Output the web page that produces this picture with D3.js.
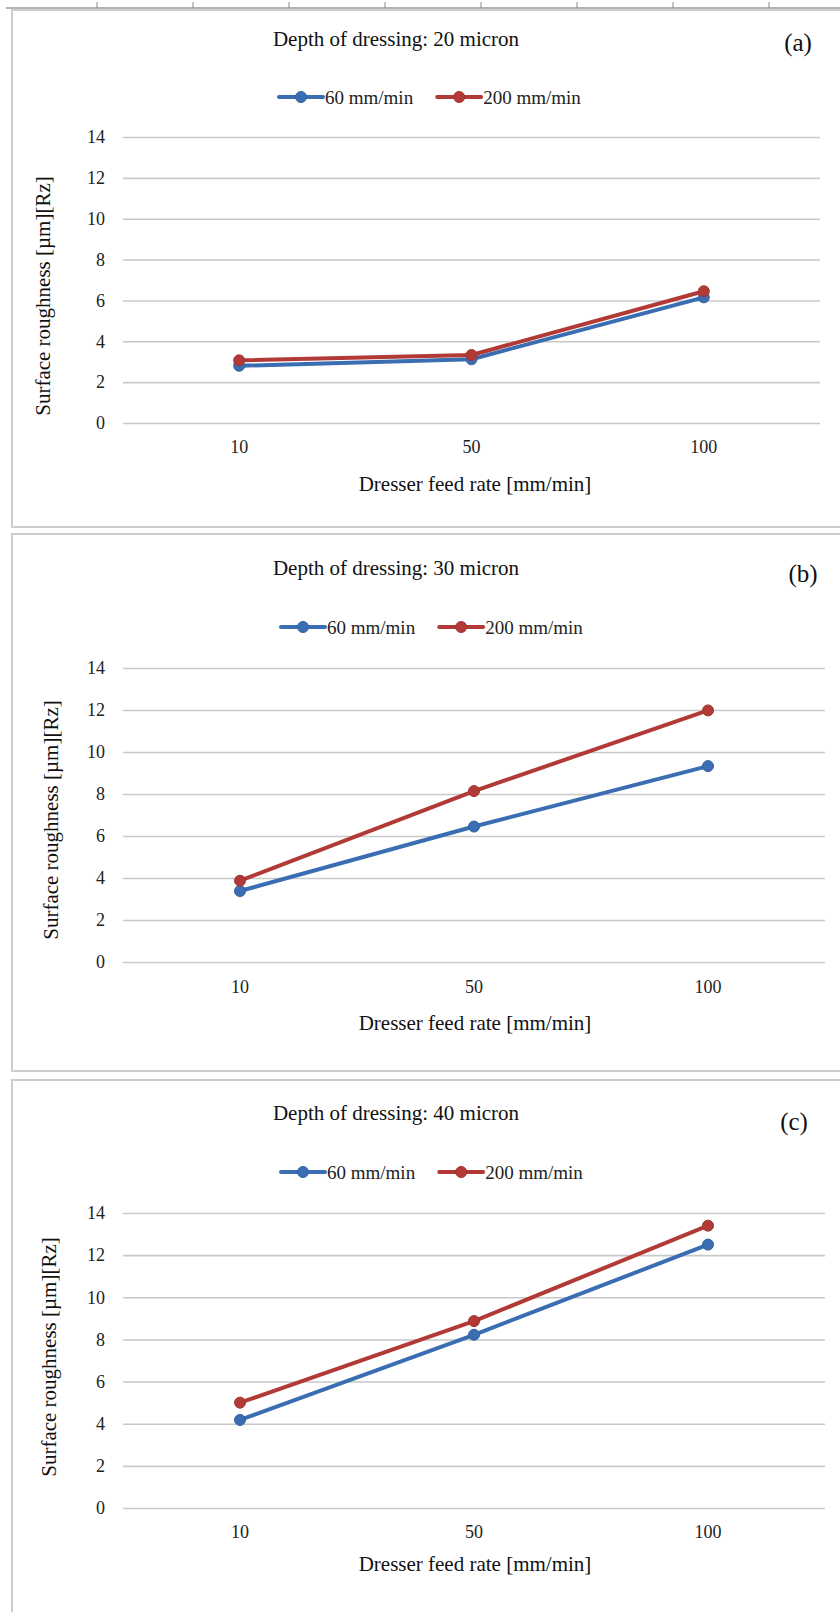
<!DOCTYPE html>
<html>
<head>
<meta charset="utf-8">
<script src="https://cdn.jsdelivr.net/npm/d3@7"></script>
<style>
  body { margin: 0; background: #fff; }
  svg text { font-family: 'Liberation Serif', 'Times New Roman', serif; }
  .grid line { stroke: #c9c9c9; stroke-width: 1.6; }
  .grid text { font-size: 18px; fill: #222; }
  .x-lab { font-size: 18px; fill: #222; text-anchor: middle; }
  .title, .axis-title { font-size: 21px; fill: #111; text-anchor: middle; }
  .letter { font-size: 25px; fill: #111; text-anchor: middle; }
  .legend text { font-size: 19px; fill: #222; }
  .frame { stroke: #cdcdcd; stroke-width: 2; fill: none; }
</style>
</head>
<body>
<div id="chart"></div>
<script>
// data
let feedRates = ['10', '50', '100']
let seriesNames = ['60 mm/min', '200 mm/min']
let depths = ['20', '30', '40']
let letters = ['(a)', '(b)', '(c)']

let depth20_60 = [2.8, 3.12, 6.15]
let depth20_200 = [3.07, 3.33, 6.45]
let depth30_60 = [3.38, 6.45, 9.33]
let depth30_200 = [3.87, 8.14, 11.98]
let depth40_60 = [4.18, 8.22, 12.5]
let depth40_200 = [5.0, 8.87, 13.4]

let yTicks = [0, 2, 4, 6, 8, 10, 12, 14]

let colors = ['#3a6db2', '#b23a36']

let width = 840, height = 1612

let svg = d3.select('#chart')
.append('svg')
.attr('width', width)
.attr('height', height)

// ruler strip along the top of the sheet
svg.append('line')
.attr('x1', 6).attr('x2', width)
.attr('y1', 8).attr('y2', 8)
.attr('stroke', '#9a9a9a')
.attr('stroke-width', 1.5)

svg.selectAll('.ruler-tick')
.data(d3.range(8))
.join('line')
.attr('class', 'ruler-tick')
.attr('x1', i => 97 + i * 96)
.attr('x2', i => 97 + i * 96)
.attr('y1', 2).attr('y2', 8)
.attr('stroke', '#8a8a8a')
.attr('stroke-width', 1)

// panel layout (top of frame, bottom of frame, plot box, text spots)
let panels = [
	{ top: 10, bottom: 527, plotTop: 137, plotBottom: 423, left: 123, right: 820,
		titleY: 46, legendY: 97, xLabY: 453, xTitleY: 491, yTitle: [43, 296], letter: [798, 51],
		series: [depth20_60, depth20_200] },
	{ top: 534, bottom: 1071, plotTop: 668, plotBottom: 962, left: 123, right: 825,
		titleY: 575, legendY: 627, xLabY: 993, xTitleY: 1030, yTitle: [51, 820], letter: [803, 582],
		series: [depth30_60, depth30_200] },
	{ top: 1080, bottom: null, plotTop: 1213, plotBottom: 1508, left: 123, right: 825,
		titleY: 1120, legendY: 1172, xLabY: 1538, xTitleY: 1571, yTitle: [49, 1357], letter: [794, 1130],
		series: [depth40_60, depth40_200] }
]

panels.forEach((p, i) => drawPanel(p, i))

function drawPanel(p, i) {
	let g = svg.append('g').attr('class', 'panel')

	// frame: left, top and bottom edges run off the right side of the page
	let frame = `M${width},${p.top}H12V${p.bottom === null ? height : p.bottom}`
	if (p.bottom !== null) frame += `H${width}`
	g.append('path').attr('class', 'frame').attr('d', frame)

	let x = d3.scalePoint()
	.domain(feedRates)
	.range([p.left, p.right])
	.padding(0.5)

	let y = d3.scaleLinear()
	.domain([0, 14])
	.range([p.plotBottom, p.plotTop])

	let grid = g.append('g')
	.attr('class', 'grid')
	.attr('transform', `translate(${p.left}, 0)`)
	.call(d3.axisLeft(y).tickValues(yTicks).tickSize(-(p.right - p.left)).tickPadding(18))

	grid.select('.domain').remove()
	grid.selectAll('text').attr('x', -18)

	g.selectAll('.x-lab')
	.data(feedRates)
	.join('text')
	.attr('class', 'x-lab')
	.attr('x', d => x(d))
	.attr('y', p.xLabY)
	.text(d => d)

	let line = d3.line()
	.x((d, j) => x(feedRates[j]))
	.y(d => y(d))

	p.series.forEach((vals, s) => {
		g.append('path')
		.attr('d', line(vals))
		.attr('fill', 'none')
		.attr('stroke', colors[s])
		.attr('stroke-width', 4)
		.attr('stroke-linejoin', 'round')

		g.selectAll(`.pt-${s}`)
		.data(vals)
		.join('circle')
		.attr('class', `pt-${s}`)
		.attr('cx', (d, j) => x(feedRates[j]))
		.attr('cy', d => y(d))
		.attr('r', 5.5)
		.attr('fill', colors[s])
		.attr('stroke', d3.color(colors[s]).darker(0.3))
		.attr('stroke-width', 1)
	})

	g.append('text')
	.attr('class', 'title')
	.attr('x', 396)
	.attr('y', p.titleY)
	.text(`Depth of dressing: ${depths[i]} micron`)

	g.append('text')
	.attr('class', 'letter')
	.attr('x', p.letter[0])
	.attr('y', p.letter[1])
	.text(letters[i])

	g.append('text')
	.attr('class', 'axis-title')
	.attr('x', 475)
	.attr('y', p.xTitleY)
	.text('Dresser feed rate [mm/min]')

	g.append('text')
	.attr('class', 'axis-title')
	.attr('transform', `translate(${p.yTitle[0] + 7}, ${p.yTitle[1]}) rotate(-90)`)
	.text('Surface roughness [µm][Rz]')

	// legend
	let legend = g.append('g')
	.attr('class', 'legend')
	.attr('transform', `translate(${i == 0 ? 279 : 281}, ${p.legendY})`)

	let cursor = 0
	seriesNames.forEach((name, s) => {
		let item = legend.append('g').attr('transform', `translate(${cursor}, 0)`)
		item.append('line')
		.attr('x1', 0).attr('x2', 44)
		.attr('stroke', colors[s])
		.attr('stroke-width', 4)
		.attr('stroke-linecap', 'round')
		item.append('circle')
		.attr('cx', 22).attr('r', 5.5)
		.attr('fill', colors[s])
		.attr('stroke', d3.color(colors[s]).darker(0.3))
		let t = item.append('text')
		.attr('x', 46)
		.attr('y', 6.5)
		.text(name)
		cursor += 46 + t.node().getComputedTextLength() + 24
	})
}
</script>
</body>
</html>
